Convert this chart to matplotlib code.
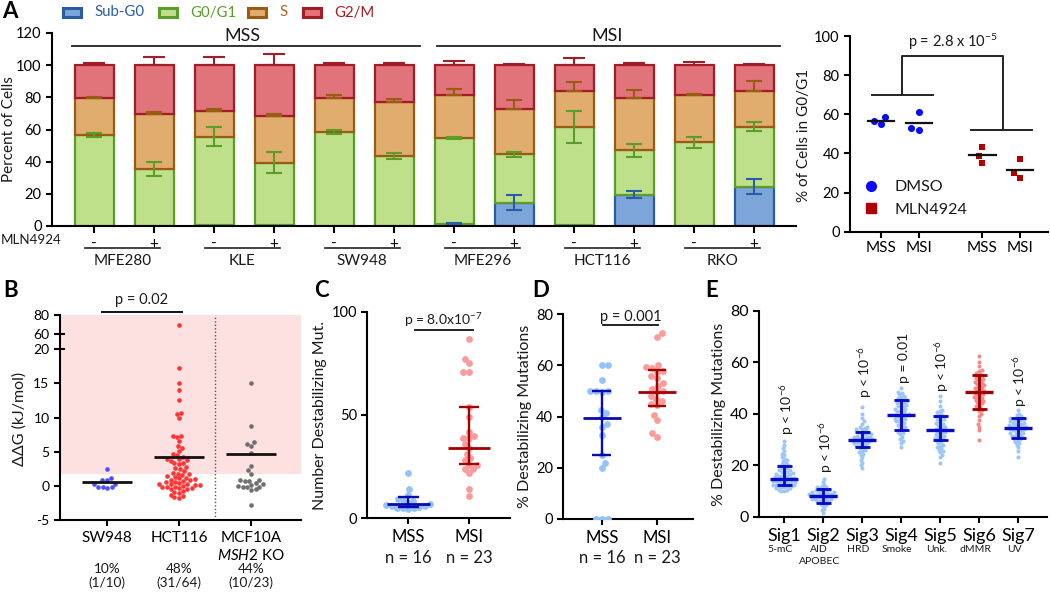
import numpy as np
import matplotlib
matplotlib.use('Agg')
import matplotlib.pyplot as plt
import matplotlib.transforms as mtrans
from matplotlib.patches import Rectangle
from matplotlib.lines import Line2D
from matplotlib.ticker import NullLocator

# ---------------- data ----------------
# Panel A (stacked cell-cycle bars)
cell_lines = ['MFE280', 'KLE', 'SW948', 'MFE296', 'HCT116', 'RKO']
mln_labels = ['-', '+'] * 6
status_groups = ['MSS', 'MSI']
phase_names = ['Sub-G0', 'G0/G1', 'S', 'G2/M']
subg0 = [0.0, 0.0, 0.5, 0.5, 0.3, 0.3, 1.5, 14.6, 0.5, 19.3, 0.3, 24.4]
subg0_err = [0, 0, 0, 0, 0, 0, 0.5, 4.6, 0, 2.2, 0, 4.8]
g0g1 = [56.6, 35.6, 55.0, 38.9, 58.0, 43.4, 53.2, 30.1, 61.2, 27.7, 51.7, 37.3]
g0g1_err = [1.5, 4.5, 6.0, 6.5, 1.3, 1.8, 0.8, 1.5, 10.0, 4.0, 3.3, 2.7]
s_phase = [22.8, 34.1, 16.0, 29.0, 21.5, 33.6, 26.8, 27.9, 22.3, 32.3, 29.4, 22.3]
s_err = [1.0, 1.3, 1.0, 1.5, 1.6, 1.4, 3.5, 5.5, 5.5, 5.0, 0.5, 6.0]
g2m = [20.6, 30.3, 28.5, 31.6, 20.2, 22.7, 18.5, 27.4, 16.0, 20.7, 18.6, 16.0]
g2m_err = [1.2, 5.0, 5.3, 7.0, 1.6, 1.2, 2.6, 0.5, 4.2, 1.4, 2.0, 0.5]

# Panel A right (% cells in G0/G1)
g1_groups = ['MSS', 'MSI', 'MSS', 'MSI']
dmso_mss = [58.5, 56.6, 55.2]
dmso_msi = [61.0, 52.8, 52.2]
mln_mss = [38.8, 43.4, 35.3]
mln_msi = [29.8, 37.3, 27.6]

# Panel B (ddG)
b_groups = ['SW948', 'HCT116', 'MCF10A\n$\\mathit{MSH2}$ KO']
b_fracs = ['10%\n(1/10)', '48%\n(31/64)', '44%\n(10/23)']
b_sw948 = [2.5, 1.2, 0.9, 0.9, 0.2, 0.2, -0.15, -0.15, -0.15, -0.3]
b_hct116 = [70, 17.2, 15, 14, 12.5, 10.6, 10.5, 9.9,
            7.3, 7.3, 7.1, 6.5, 5.8, 5.6, 5.1, 4.7, 4.5,
            4.2, 4.0, 3.9, 3.8, 3.7, 3.4, 3.3, 3.2, 2.8, 2.6,
            2.4, 2.2, 1.9, 1.8, 1.7, 1.6, 1.4, 1.3, 1.2, 1.1,
            1.0, 0.9, 0.8, 0.7, 0.6, 0.5, 0.4, 0.3, 0.3, 0.2,
            0.1, 0.1, 0.0, -0.1, -0.2, -0.2, -0.3, -0.3, -0.4, -0.5,
            -0.8, -0.9, -1.0, -1.3, -1.5, -1.7, -1.8]
b_mcf10a = [15, 8.8, 6.4, 6.1, 5.9, 4.8, 2.9, 2.3, 1.75, 0.8, 0.8, 0.7, 0.7,
            0.4, 0.2, 0.1, 0.0, -0.1, -0.2, -0.2, -0.5, -0.6, -2.8]
b_means = [0.5, 4.2, 4.6]
b_threshold = 1.7

# Panel C (number destabilizing mutations)
cd_groups = ['MSS', 'MSI']
cd_n = ['n = 16', 'n = 23']
c_mss = [21.8, 14, 11.3, 9.5, 8.9, 8.5, 7.5, 7.0, 6.5, 6.0, 5.8, 5.5, 5.2, 5.0, 4.8, 4.6]
c_msi = [87, 77, 75, 71, 71, 54, 49, 42, 40, 39, 39, 36, 34, 31, 29, 28, 26, 26,
         24, 24, 22, 14, 11]
c_center = [6.7, 34.0]
c_lo = [5.3, 26.1]
c_hi = [10.5, 54.0]

# Panel D (% destabilizing mutations)
d_mss = [60, 60, 54.5, 50, 50, 50, 49.5, 42.5, 41.5, 40, 37, 36, 33, 25, 22, 20, 0, 0, 0]
d_msi = [72.5, 71, 60, 59.5, 59, 58, 57.5, 56, 55, 53, 52, 51, 50, 49.5, 48, 47, 46,
         45, 44.5, 40.5, 38.5, 33.5, 32]
d_center = [39.6, 49.5]
d_lo = [25.0, 44.3]
d_hi = [50.0, 58.2]

# Panel E (signatures)
sig_names = ['Sig1', 'Sig2', 'Sig3', 'Sig4', 'Sig5', 'Sig6', 'Sig7']
sig_sub = ['5-mC', 'AID\nAPOBEC', 'HRD', 'Smoke', 'Unk.', 'dMMR', 'UV']
sig_p = ['p < 10$^{-6}$', 'p < 10$^{-6}$', 'p < 10$^{-6}$', 'p = 0.01',
         'p < 10$^{-6}$', '', 'p < 10$^{-6}$']
sig_p_y = [31.7, 16.8, 46, 51.8, 48.5, 0, 42.7]
sig1 = [29.5, 28, 26.5, 25.5, 24.5, 24, 23, 22.5, 22, 21.5, 21, 20.5, 20, 20, 19.5,
        19, 19, 18.5, 18, 18, 17.5, 17.5, 17, 17, 16.5, 16.5, 16, 16, 16, 15.5, 15.5,
        15, 15, 15, 14.5, 14.5, 14.5, 14, 14, 14, 13.5, 13.5, 13.5, 13, 13, 13, 12.5,
        12.5, 12.5, 12, 12, 12, 11.5, 11.5, 11, 11, 10.5, 10.5, 10, 10]
sig2 = [14.5, 13.5, 12.5, 12, 11.5, 11.5, 11, 11, 10.5, 10.5, 10, 10, 10, 9.5, 9.5,
        9.5, 9, 9, 9, 9, 8.5, 8.5, 8.5, 8.5, 8, 8, 8, 8, 7.5, 7.5, 7.5, 7.5, 7, 7, 7,
        6.5, 6.5, 6.5, 6, 6, 5.5, 5.5, 5, 4.5, 4, 3, 2.5, 1.5]
sig3 = [42.5, 40, 38.5, 37, 36, 35, 35, 34.5, 34, 34, 33.5, 33, 33, 32.5, 32.5, 32,
        32, 31.5, 31.5, 31, 31, 31, 30.5, 30.5, 30, 30, 30, 29.5, 29.5, 29.5, 29, 29,
        29, 28.5, 28.5, 28, 28, 27.5, 27.5, 27, 27, 26.5, 26, 25.5, 25, 24.5, 24, 23,
        22, 21, 20, 19]
sig4 = [50, 48.5, 48, 47.5, 47, 46.5, 46, 46, 45.5, 45, 45, 44.5, 44, 44, 43.5, 43,
        43, 42.5, 42, 42, 41.5, 41, 41, 40.5, 40, 40, 39.5, 39.5, 39, 39, 38.5, 38,
        38, 37.5, 37, 37, 36.5, 36, 35.5, 35, 35, 34.5, 34, 33.5, 33, 32.5, 32, 31,
        30, 29.5, 28.5, 27]
sig5 = [47, 45, 43, 41.5, 41, 40.5, 40, 39.5, 39, 39, 38.5, 38, 38, 37.5, 37, 36.5,
        36, 36, 35.5, 35, 35, 34.5, 34, 34, 33.5, 33, 33, 32.5, 32, 32, 31.5, 31, 31,
        30.5, 30, 30, 29.5, 29, 28.5, 28, 27.5, 27, 26.5, 26, 25.5, 25, 24, 23, 21]
sig6 = [62.5, 60, 58.5, 57, 56.5, 56, 55.5, 55, 54.5, 54, 54, 53.5, 53, 53, 52.5, 52,
        52, 51.5, 51, 51, 50.5, 50, 50, 49.5, 49, 49, 48.5, 48, 48, 47.5, 47, 47, 46.5,
        46, 46, 45.5, 45, 45, 44.5, 44, 43.5, 43, 42.5, 42, 41.5, 41, 40, 39, 37.5, 36,
        35, 33.5, 29.8]
sig7 = [41.5, 40, 39.5, 39, 38.5, 38.5, 38, 38, 37.5, 37.5, 37, 37, 36.5, 36.5, 36,
        36, 35.5, 35.5, 35, 35, 35, 34.5, 34.5, 34, 34, 34, 33.5, 33.5, 33, 33, 32.5,
        32.5, 32, 32, 31.5, 31.5, 31, 31, 30.5, 30, 30, 29.5, 29, 28.5, 28, 27, 25.5, 23]
e_center = [14.7, 8.1, 29.8, 39.4, 33.5, 48.4, 34.3]
e_lo = [12.2, 5.4, 26.9, 33.5, 29.7, 41.7, 30.4]
e_hi = [19.7, 10.9, 32.8, 45.2, 39.2, 55.0, 38.3]

# ---------------- style ----------------
plt.rcParams.update({
    'font.family': ['Lato', 'DejaVu Sans'],
    'mathtext.fontset': 'custom',
    'mathtext.rm': 'Lato',
    'mathtext.it': 'Lato:italic',
    'mathtext.bf': 'Lato:bold',
    'axes.linewidth': 1.5,
    'xtick.major.width': 1.5, 'ytick.major.width': 1.5,
    'xtick.major.size': 4, 'ytick.major.size': 4,
    'xtick.color': 'black', 'ytick.color': 'black',
    'text.color': '#1a1a1a',
})

W, H = 1050, 594
fig = plt.figure(figsize=(W / 100, H / 100), dpi=100)


def add_ax(l, t, r, b):
    ax = fig.add_axes([l / W, 1 - b / H, (r - l) / W, (b - t) / H])
    ax.spines[['top', 'right']].set_visible(False)
    return ax


def fx(px):
    return px / W


def fy(py):
    return 1 - py / H


def swarm_x(ax, xc, values, d):
    """Beeswarm offsets computed in pixel space, returned in data units."""
    vals = np.asarray(values, float)
    pts = ax.transData.transform(np.column_stack([np.full(len(vals), xc), vals]))
    ypx = pts[:, 1]
    order = np.argsort(vals, kind='stable')
    px_list, py_list = [], []
    offs = np.zeros(len(vals))
    for n, i in enumerate(order):
        y = ypx[i]
        cands = [0.0]
        for a, b in zip(px_list, py_list):
            dy = y - b
            if abs(dy) < d:
                dx = np.sqrt(d * d - dy * dy)
                cands += [a + dx, a - dx]
        sign = 1 if n % 2 else -1
        cands = sorted(cands, key=lambda c: (round(abs(c), 4), sign * c))
        chosen = cands[-1]
        for c in cands:
            if all((c - a) ** 2 + (y - b) ** 2 >= d * d - 1e-6 for a, b in zip(px_list, py_list)):
                chosen = c
                break
        px_list.append(chosen)
        py_list.append(y)
        offs[i] = chosen
    inv = ax.transData.inverted()
    out = inv.transform(np.column_stack([pts[:, 0] + offs, ypx]))
    return out[:, 0]


def summary(ax, x, c, lo, hi, color, lw, half=0.35, cap=0.17):
    ax.plot([x - half, x + half], [c, c], color=color, lw=lw, solid_capstyle='butt', zorder=5)
    if lo is not None:
        ax.plot([x, x], [lo, hi], color=color, lw=lw * 0.85, zorder=5)
        for v in (lo, hi):
            ax.plot([x - cap, x + cap], [v, v], color=color, lw=lw * 0.85,
                    solid_capstyle='butt', zorder=5)


# ---------------- Panel A bars ----------------
axA = add_ax(52, 33, 796, 226)
x = np.arange(len(mln_labels))
faces = ['#7da5d9', '#bfe08b', '#e0ad6f', '#e0747a']
edges = ['#2a5ca6', '#5b9d29', '#9a5b13', '#a31d26']
tcolors = ['#2a5ca6', '#5b9d29', '#a8641c', '#a31d26']
segs = [subg0, g0g1, s_phase, g2m]
errs = [subg0_err, g0g1_err, s_err, g2m_err]
bottom = np.zeros(len(x))
tops = []
for vals, fc, ec in zip(segs, faces, edges):
    axA.bar(x, vals, 0.65, bottom=bottom, color=fc, edgecolor=ec, linewidth=1.6, zorder=2)
    bottom = bottom + np.asarray(vals)
    tops.append(bottom.copy())
for k, (top, er, ec) in enumerate(zip(tops, errs, edges)):
    er = np.asarray(er, float)
    lower = er if k < 2 else np.zeros_like(er)
    m = er > 0
    axA.errorbar(x[m], top[m], yerr=[lower[m], er[m]], fmt='none', ecolor=ec,
                 elinewidth=1.5, capsize=6 if k < 3 else 8, capthick=1.5, zorder=3)
axA.set_xlim(-0.7, 11.7)
axA.set_ylim(0, 120)
axA.set_yticks(np.arange(0, 121, 20))
axA.set_xticks(x, mln_labels)
axA.tick_params(axis='x', length=5, pad=3, labelsize=11)
axA.tick_params(axis='y', labelsize=10.5)
trA = mtrans.blended_transform_factory(axA.transData, axA.transAxes)
for g, name in enumerate(cell_lines):
    axA.plot([2 * g - 0.15, 2 * g + 1.1], [-0.114, -0.114], transform=trA, clip_on=False,
             color='#222', lw=1.2)
    axA.text(2 * g + 0.47, -0.181, name, transform=trA, ha='center', va='center', fontsize=11)
for g, name in enumerate(status_groups):
    x0, x1 = 6 * g, 6 * g + 5
    axA.plot([x0 - (0.37 if g == 0 else 0.28), x1 + 0.43], [112, 112], color='#222', lw=1.3,
             clip_on=False)
    axA.text((x0 + x1) / 2 - 0.02 + (0.07 if g else 0), 113.3, name, ha='center', va='bottom',
             fontsize=13)
fig.text(fx(1), fy(240), 'MLN4924', ha='left', va='center', fontsize=9.6)
fig.text(fx(9), fy(129), 'Percent of Cells', rotation=90, ha='center', va='center', fontsize=11)
# legend (manual layout of patches and coloured labels)
for name, fc, ec, tc, px in zip(phase_names, faces, edges, tcolors, [62, 158, 247, 302]):
    fig.add_artist(Rectangle((fx(px + 1), fy(16.5)), 18 / W, 8 / H, transform=fig.transFigure,
                             facecolor=fc, edgecolor=ec, linewidth=2.2))
    fig.text(fx(px + 32), fy(12.5), name, color=tc, ha='left', va='center', fontsize=10.8)

# ---------------- Panel A right ----------------
axR = add_ax(850, 36, 1048, 231.7)
pos = [0, 1, 2.7, 3.7]
axR.set_xlim(-0.83, 4.45)
axR.set_ylim(0, 100)
axR.set_yticks(np.arange(0, 101, 20))
axR.set_xticks(pos, g1_groups)
axR.tick_params(axis='x', labelsize=11, pad=3)
axR.tick_params(axis='y', labelsize=10.5)
groupsR = [dmso_mss, dmso_msi, mln_mss, mln_msi]
for p, vals in zip(pos, groupsR):
    xs = swarm_x(axR, p, vals, 7.5)
    if p < 2:
        axR.scatter(xs, vals, s=26, color='#0a0aff', marker='o', linewidths=0, zorder=3)
    else:
        axR.scatter(xs, vals, s=24, color='#b00000', marker='s', linewidths=0, zorder=3)
    mval = np.mean(vals)
    axR.plot([p - 0.35, p + 0.35], [mval, mval], color='#111', lw=1.6, zorder=4)
bl = dict(color='#222', lw=1.4, clip_on=False)
axR.plot([pos[0] - 0.24, pos[1] + 0.39], [70, 70], **bl)
axR.plot([pos[2] - 0.3, pos[3] + 0.32], [52, 52], **bl)
lmid, rmid = (pos[0] + pos[1]) / 2 + 0.06, (pos[2] + pos[3]) / 2 + 0.05
axR.plot([lmid, lmid, rmid, rmid], [70, 89.8, 89.8, 52], **bl)
axR.text((lmid + rmid) / 2, 92, 'p = 2.8 x 10$^{-5}$', ha='center', va='bottom', fontsize=10.5)
lh = [Line2D([], [], marker='o', ls='none', color='#0a0aff', markersize=7),
      Line2D([], [], marker='s', ls='none', color='#b00000', markersize=6.5)]
axR.legend(lh, ['DMSO', 'MLN4924'], loc='lower left', bbox_to_anchor=(0.0, 0.02),
           frameon=False, fontsize=11.5, handletextpad=0.9, labelspacing=0.5, borderpad=0.2,
           handlelength=1.2)
fig.text(fx(804), fy(135), '% of Cells in G0/G1', rotation=90, ha='center', va='center', fontsize=11)


# ---------------- Panel B ----------------
def b_fwd(y):
    y = np.asarray(y, float)
    return np.where(y <= 20, y, np.where(y < 60, 20 + (y - 20) * (2.2 / 40), 22.2 + (y - 60) * 0.141))


def b_inv(u):
    u = np.asarray(u, float)
    return np.where(u <= 20, u, np.where(u < 22.2, 20 + (u - 20) * 40 / 2.2, 60 + (u - 22.2) / 0.141))


axB = add_ax(60, 315, 301, 520)
axB.set_yscale('function', functions=(b_fwd, b_inv))
axB.set_ylim(-5, 80)
axB.set_xlim(-0.653, 2.694)
axB.set_yticks([-5, 0, 5, 10, 15, 20, 60, 80])
axB.yaxis.set_minor_locator(NullLocator())
axB.set_yticklabels(['-5', '0', '5', '10', '15', '20', '60', '80'])
axB.tick_params(axis='y', labelsize=10)
axB.set_xticks([0, 1, 2], b_groups)
axB.tick_params(axis='x', labelsize=11, pad=4)
axB.axhspan(b_threshold, 80, color='#fde1e1', zorder=0, lw=0)
axB.axvline(1.5, color='#555', ls=(0, (1, 1.5)), lw=1, zorder=1)
trBy = mtrans.blended_transform_factory(axB.transAxes, axB.transData)
for v in (20, 60):
    axB.plot([0, 0.018], [v, v], transform=trBy, color='k', lw=1.5, clip_on=False)
b_sets = [b_sw948, b_hct116, b_mcf10a]
b_cols = ['#4e4eff', '#ff3535', '#707070']
for i, (vals, col) in enumerate(zip(b_sets, b_cols)):
    xs = swarm_x(axB, i, vals, 4.6)
    axB.scatter(xs, vals, s=11, color=col, linewidths=0, zorder=3)
    summary(axB, i, b_means[i], None, None, '#111', 2.0)
trB = mtrans.blended_transform_factory(axB.transData, axB.transAxes)
axB.plot([-0.07, 1.04], [1.015, 1.015], transform=trB, color='#111', lw=1.4, clip_on=False)
axB.text(0.485, 1.075, 'p = 0.02', transform=trB, ha='center', va='center', fontsize=10.5)
for i, t in enumerate(b_fracs):
    axB.text(i, -(576 - 520) / 205, t, transform=trB, ha='center', va='center',
             fontsize=9.8, linespacing=1.2)
fig.text(fx(19.5), fy(419), 'ΔΔG (kJ/mol)', rotation=90, ha='center', va='center', fontsize=11.5)

# ---------------- Panel C ----------------
light_blue = '#95c2f8'
salmon = '#f89c9c'
dark_blue = '#0a0ab0'
dark_red = '#a50000'
axC = add_ax(367.3, 311.7, 510, 518.3)
axC.set_xlim(-0.675, 1.675)
axC.set_ylim(0, 100)
axC.set_yticks([0, 50, 100])
axC.set_xticks([0, 1], cd_groups)
axC.tick_params(axis='x', labelsize=12, pad=4)
axC.tick_params(axis='y', labelsize=10.5)
for i, (vals, col) in enumerate(zip([c_mss, c_msi], [light_blue, salmon])):
    xs = swarm_x(axC, i, vals, 5.6)
    axC.scatter(xs, vals, s=24, color=col, linewidths=0, zorder=3)
for i, col in enumerate([dark_blue, dark_red]):
    summary(axC, i, c_center[i], c_lo[i], c_hi[i], col, 2.0)
axC.plot([0.11, 1.06], [91, 91], color='#111', lw=1.3)
axC.text(0.57, 91.5, 'p = 8.0x10$^{-7}$', ha='center', va='bottom', fontsize=10)
trC = mtrans.blended_transform_factory(axC.transData, axC.transAxes)
for i, t in enumerate(cd_n):
    axC.text(i, -(558 - 518.3) / 206.6, t, transform=trC, ha='center', va='center', fontsize=12)
fig.text(fx(320), fy(416), 'Number Destabilizing Mut.', rotation=90, ha='center', va='center',
         fontsize=11.5)

# ---------------- Panel D ----------------
axD = add_ax(563.3, 314.3, 692.7, 519)
axD.set_xlim(-0.70, 1.65)
axD.set_ylim(0, 80)
axD.set_yticks([0, 20, 40, 60, 80])
axD.set_xticks([0, 1], cd_groups)
axD.tick_params(axis='x', labelsize=12, pad=4)
axD.tick_params(axis='y', labelsize=10.5)
for i, (vals, col) in enumerate(zip([d_mss, d_msi], [light_blue, salmon])):
    xs = swarm_x(axD, i, vals, 6.0)
    axD.scatter(xs, vals, s=24, color=col, linewidths=0, zorder=3)
for i, col in enumerate([dark_blue, dark_red]):
    summary(axD, i, d_center[i], d_lo[i], d_hi[i], col, 2.0)
axD.plot([0.03, 1.02], [75.8, 75.8], color='#111', lw=1.3)
axD.text(0.52, 76.3, 'p = 0.001', ha='center', va='bottom', fontsize=10.5)
trD = mtrans.blended_transform_factory(axD.transData, axD.transAxes)
for i, t in enumerate(cd_n):
    axD.text(i, -(558 - 519) / 204.7, t, transform=trD, ha='center', va='center', fontsize=12)
fig.text(fx(525), fy(416), '% Destabilizing Mutations', rotation=90, ha='center', va='center',
         fontsize=11.5)

# ---------------- Panel E ----------------
axE = add_ax(759.3, 310.7, 1047, 516.7)
axE.set_xlim(-0.64, 6.74)
axE.set_ylim(0, 80)
axE.set_yticks([0, 20, 40, 60, 80])
axE.set_xticks(range(7), sig_names)
axE.tick_params(axis='x', labelsize=13, pad=4)
axE.tick_params(axis='y', labelsize=11.5)
sigs = [sig1, sig2, sig3, sig4, sig5, sig6, sig7]
trE = mtrans.blended_transform_factory(axE.transData, axE.transAxes)
for i, vals in enumerate(sigs):
    red = sig_names[i] == 'Sig6'
    xs = swarm_x(axE, i, vals, 3.0)
    axE.scatter(xs, vals, s=8.5, color='#f38a8a' if red else '#9dc6f6', linewidths=0, zorder=3)
    summary(axE, i, e_center[i], e_lo[i], e_hi[i], '#a00000' if red else '#0a0ac8', 2.4,
            half=0.36, cap=0.19)
    if sig_p[i]:
        axE.text(i + 0.06, sig_p_y[i], sig_p[i], rotation=90, ha='center', va='bottom',
                 fontsize=10)
    axE.text(i - 0.1, -(545 - 516.7) / 206, sig_sub[i], transform=trE, ha='center', va='top',
             fontsize=7.5, linespacing=1.5)
fig.text(fx(719), fy(414), '% Destabilizing Mutations', rotation=90, ha='center', va='center',
         fontsize=11.5)

# ---------------- panel letters ----------------
for lab, px, py in [('A', 10, 12), ('B', 11, 291), ('C', 321, 291), ('D', 541, 291), ('E', 712, 291)]:
    fig.text(fx(px), fy(py), lab, ha='center', va='center', fontsize=16, fontweight='bold',
             color='black')

fig.savefig('out.png', dpi=100)
